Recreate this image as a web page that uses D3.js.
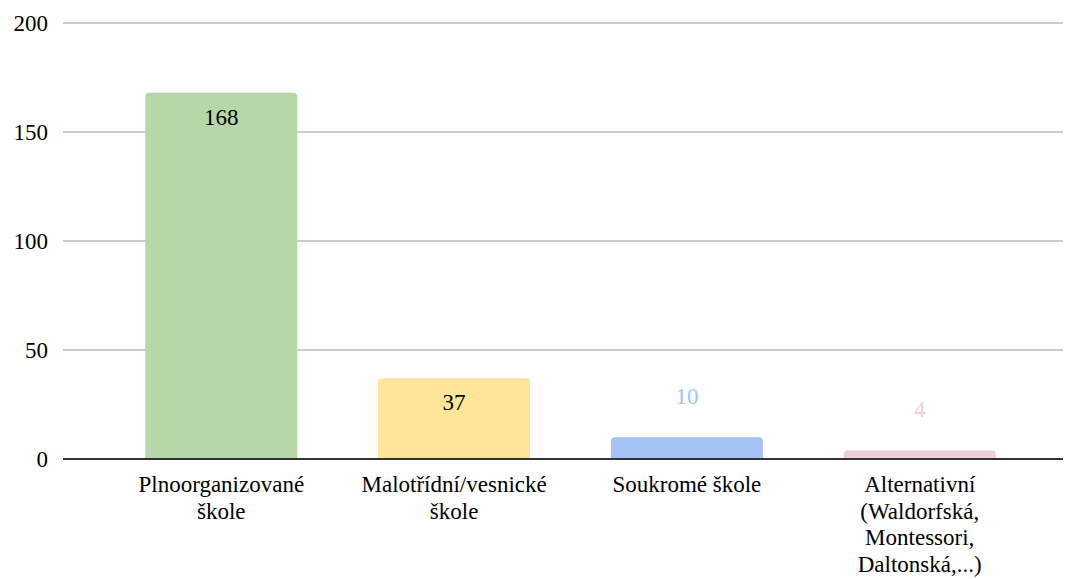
<!DOCTYPE html>
<html>
<head>
<meta charset="utf-8">
<script src="https://cdn.jsdelivr.net/npm/d3@7"></script>
<style>
  body { margin:0; padding:0; background:#fff; }
  svg { display:block; }
</style>
</head>
<body>
<svg id="chart" width="1066" height="579"></svg>
<script>
// data
var categories = ["Plnoorganizované škole", "Malotřídní/vesnické škole", "Soukromé škole", "Alternativní (Waldorfská, Montessori, Daltonská,...)"];
var labelLines = [
  ["Plnoorganizované", "škole"],
  ["Malotřídní/vesnické", "škole"],
  ["Soukromé škole"],
  ["Alternativní", "(Waldorfská,", "Montessori,", "Daltonská,...)"]
];
var values = [168, 37, 10, 4];
var colors = ["#b6d7a8", "#ffe599", "#a4c2f4", "#ead1dc"];
var yTicks = [0, 50, 100, 150, 200];

var svg = d3.select("#chart");
var FONT = "Times, 'Times New Roman', 'Liberation Serif', 'DejaVu Serif', serif";

var x = d3.scaleBand().domain(categories).range([105, 1036]).paddingInner(0.347).paddingOuter(0.173);
var y = d3.scaleLinear().domain([0, 200]).range([459, 23]);

// grid
svg.append("g").selectAll("line").data(yTicks.filter(function(d){ return d > 0; }))
  .enter().append("line")
  .attr("x1", 63).attr("x2", 1063)
  .attr("y1", function(d){ return y(d); }).attr("y2", function(d){ return y(d); })
  .attr("stroke", "#cccccc").attr("stroke-width", 2);

// y labels
svg.append("g").selectAll("text").data(yTicks).enter().append("text")
  .attr("x", 48).attr("y", function(d){ return y(d); })
  .attr("dy", "0.35em")
  .attr("text-anchor", "end")
  .style("font-family", FONT)
  .attr("font-size", 23)
  .attr("fill", "#000")
  .text(function(d){ return d; });

// bars with rounded top corners
var r = 4;
function barPath(d, i) {
  var x0 = x(categories[i]), w = x.bandwidth(), yt = y(d), yb = y(0);
  var rr = Math.min(r, (yb - yt));
  return "M" + x0 + "," + yb +
    "V" + (yt + rr) +
    "Q" + x0 + "," + yt + " " + (x0 + rr) + "," + yt +
    "H" + (x0 + w - rr) +
    "Q" + (x0 + w) + "," + yt + " " + (x0 + w) + "," + (yt + rr) +
    "V" + yb + "Z";
}
svg.append("g").selectAll("path").data(values).enter().append("path")
  .attr("d", barPath)
  .attr("fill", function(d, i){ return colors[i]; });

// value labels: inside if bar is tall enough, otherwise above in bar colour
svg.append("g").selectAll("text").data(values).enter().append("text")
  .attr("x", function(d, i){ return x(categories[i]) + x.bandwidth() / 2; })
  .attr("y", function(d){ return (y(0) - y(d) > 40) ? y(d) + 24 : y(d) - 41; })
  .attr("dy", "0.35em")
  .attr("text-anchor", "middle")
  .style("font-family", FONT)
  .attr("font-size", 23)
  .attr("fill", function(d, i){ return (y(0) - y(d) > 40) ? "#000" : colors[i]; })
  .text(function(d){ return d; });

// baseline
svg.append("line")
  .attr("x1", 63).attr("x2", 1063)
  .attr("y1", y(0)).attr("y2", y(0))
  .attr("stroke", "#333333").attr("stroke-width", 2);

// x labels
var xl = svg.append("g").selectAll("text").data(labelLines).enter().append("text")
  .attr("text-anchor", "middle")
  .style("font-family", FONT)
  .attr("font-size", 23)
  .attr("fill", "#000");
xl.each(function(lines, i) {
  var t = d3.select(this);
  lines.forEach(function(s, j) {
    t.append("tspan")
      .attr("x", x(categories[i]) + x.bandwidth() / 2)
      .attr("y", 492 + j * 26.5)
      .text(s);
  });
});
</script>
</body>
</html>
